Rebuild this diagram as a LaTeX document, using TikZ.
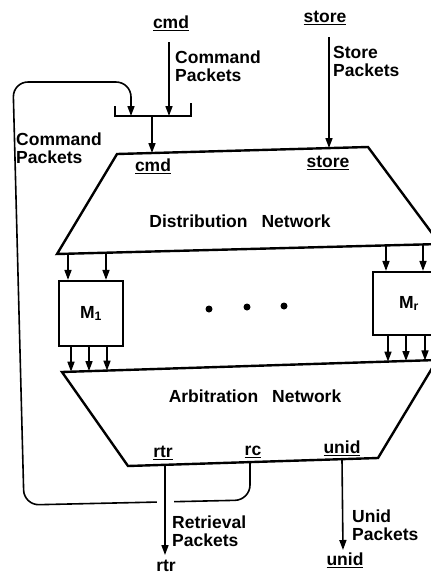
\documentclass[tikz,border=0pt]{standalone}
\usepackage{fontspec}
\setmainfont{Liberation Sans}
\usetikzlibrary{arrows.meta,calc}
\begin{document}
\begin{tikzpicture}[x=1pt,y=-1pt,
  lbl/.style={font=\fontsize{17.5}{18}\selectfont\bfseries, inner sep=0pt},
  lblL/.style={lbl, align=left, anchor=west},
  net/.style={line width=2.4pt, line join=miter},
  arr/.style={line width=1.6pt, -{Triangle[length=10pt,width=7pt]}},
  wire/.style={line width=1.6pt},
  mbox/.style={draw, line width=2.2pt, minimum width=64pt, minimum height=65pt, inner sep=0pt, lbl},
  dotn/.style={circle, fill, inner sep=0pt, minimum size=7pt}]
\useasboundingbox (0,0) rectangle (431,574);
\clip (0,0) rectangle (431,574);

% Distribution network
\coordinate (dtl) at (117,154);
\coordinate (dtr) at (368,147);
\coordinate (dbr) at (440,244);
\coordinate (dbl) at (57,254);
\draw[net] (dtl) -- (dtr) -- (dbr) -- (dbl) -- cycle;
\node[lbl] (dn) at (240,221) {Distribution\hspace{14pt}Network};

% Arbitration network
\coordinate (atl) at (62,372);
\coordinate (atr) at (437,360);
\coordinate (abr) at (378,458);
\coordinate (abl) at (128,466);
\draw[net] (atl) -- (atr) -- (abr) -- (abl) -- cycle;
\node[lbl] (an) at (255,396) {Arbitration\hspace{14pt}Network};

% Modules
\node[mbox] (m1) at (91,313.5) {M\textsubscript{1}};
\node[mbox, minimum width=72pt, minimum height=63pt] (mr) at (409,303.5) {M\textsubscript{r}};
\node[dotn] (dot1) at (209,309) {};
\node[dotn] (dot2) at (247,307) {};
\node[dotn] (dot3) at (284,306) {};

% distribution -> modules
\coordinate (d1) at (68,253.7);
\coordinate (d2) at (106,252.7);
\coordinate (d3) at (386,245.4);
\coordinate (d4) at (423,244.4);
\draw[arr] (d1) -- (d1 |- m1.north);
\draw[arr] (d2) -- (d2 |- m1.north);
\draw[arr] (d3) -- (d3 |- mr.north);
\draw[arr] (d4) -- (d4 |- mr.north);

% modules -> arbitration
\coordinate (a1) at (71,371.7);
\coordinate (a2) at (89,371.1);
\coordinate (a3) at (107,370.6);
\coordinate (a4) at (388,361.6);
\coordinate (a5) at (406,361.0);
\coordinate (a6) at (425,360.4);
\draw[arr] (m1.south -| a1) -- (a1);
\draw[arr] (m1.south -| a2) -- (a2);
\draw[arr] (m1.south -| a3) -- (a3);
\draw[arr] (mr.south -| a4) -- (a4);
\draw[arr] (mr.south -| a5) -- (a5);
\draw[arr] (mr.south -| a6) -- (a6);

% merge bar
\coordinate (bl) at (115,116);
\coordinate (br) at (191,116);
\coordinate (barout) at (152,116);
\coordinate (cmdin) at (152,153);
\draw[wire] (115,106) -- (bl) -- (br) -- (191,103);
\coordinate (cmdsrc) at (169,42);
\draw[arr] (cmdsrc) -- (cmdsrc |- br);
\draw[arr] (barout) -- (cmdin);

% store input
\coordinate (storesrc) at (329,37);
\coordinate (storein) at (329,148);
\draw[arr] (storesrc) -- (storein);

% feedback loop rc -> cmd merge
\coordinate (rcout) at (250,462.1);
\coordinate (loopin) at (131,116);
\draw[arr, rounded corners=15pt] (rcout) -- (250,500) -- (24,505) -- (13,82) -- (131,82) -- (loopin);
\fill[white] (157,494) rectangle (174,511);

% outputs
\coordinate (rtrout) at (165,464.8);
\coordinate (rtrend) at (165,555);
\draw[arr] (rtrout) -- (rtrend);
\coordinate (unidout) at (342,459.2);
\coordinate (unidend) at (343,550);
\draw[arr] (unidout) -- (unidend);

% labels
\node[lbl] (cmdtop) at (171,23) {\underline{cmd}};
\node[lbl] (storetop) at (325,18) {\underline{store}};
\node[lblL] (cpk) at (175,66) {Command\\Packets};
\node[lblL] (spk) at (333,61.5) {Store\\Packets};
\node[lblL] (cpk2) at (16,148) {Command\\Packets};
\node[lbl] (cmdinl) at (153,166) {\underline{cmd}};
\node[lbl] (storeinl) at (328,163) {\underline{store}};
\node[lbl] (rtrl) at (163,453) {\underline{rtr}};
\node[lbl] (rcl) at (253,452) {\underline{rc}};
\node[lbl] (unidl) at (342,448) {\underline{unid}};
\node[lblL] (rpk) at (172,531) {Retrieval\\Packets};
\node[lblL] (upk) at (352,525.5) {Unid\\Packets};
\node[lbl] (rtrbot) at (166,566) {rtr};
\node[lbl] (unidbot) at (345,560) {\underline{unid}};
\end{tikzpicture}
\end{document}
